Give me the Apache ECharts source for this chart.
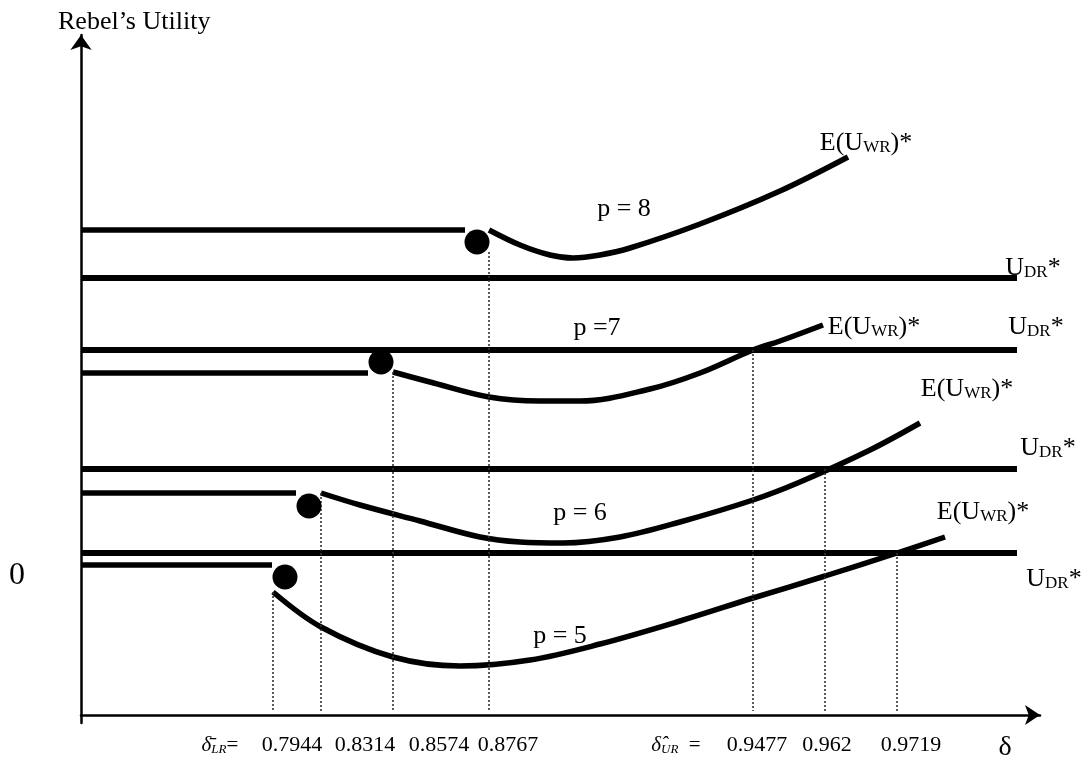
<!DOCTYPE html>
<html>
<head>
<meta charset="utf-8">
<script src="https://cdn.jsdelivr.net/npm/echarts@6/dist/echarts.min.js"></script>
<style>
  html, body { margin: 0; padding: 0; background: #ffffff; }
  #chart { width: 1086px; height: 761px; }
</style>
</head>
<body>
<div id="chart"></div>
<script>
// Schematic diagram: x runs along the discount factor δ (not to scale),
// y is the rebel's utility (arbitrary units).

const prices = [8, 7, 6, 5];

// U_DR* level for each p
const udrLevel = [437, 365, 246, 162];

// flat utility segment left of the jump, and where it stops
const flatLevel = [485, 342, 222, 150];
const flatEnd = [384, 287, 215, 191];

// the point marking the discontinuity
const jumpDots = [[396, 473], [300, 353], [228, 209], [204, 138]];

// E(U_WR)* curves, one per p
const curveP8 = [[408, 485], [439, 470], [469, 460], [492, 457], [519, 460], [549, 467], [619, 491], [699, 524], [767, 558]];
const curveP7 = [[312, 343], [349, 333], [408, 318], [459, 314], [499, 314], [569, 326], [619, 342], [672, 365], [699, 374], [742, 390]];
const curveP6 = [[240, 222], [279, 210], [339, 194], [399, 178], [439, 173], [482, 172], [539, 178], [599, 193], [672, 215], [719, 233], [789, 265], [839, 292]];
const curveP5 = [[192, 123], [240, 88], [312, 58], [379, 49], [449, 55], [519, 71], [599, 94], [672, 117], [744, 139], [816, 162], [864, 178]];
const curves = [curveP8, curveP7, curveP6, curveP5];

// δ thresholds marked on the axis
const lowerDelta = ['0.7944', '0.8314', '0.8574', '0.8767'];
const lowerDeltaX = [192, 240, 312, 408];
const lowerDeltaTop = [123, 222, 343, 463];
const upperDelta = ['0.9477', '0.962', '0.9719'];
const upperDeltaX = [672, 744, 816];
const upperDeltaTop = [365, 246, 162];

// tick text positions along the axis
const lowerLabelX = [211, 284, 358, 427];
const upperLabelX = [676, 746, 830];
const lowerNameX = 139;
const upperNameX = 595;
const axisSymbolX = 924;
const zeroLevel = 139;

// curve annotations: [x, y] anchors in diagram units
const pLabelAt = [[543, 508], [516, 389], [499, 204], [479, 81]];
const ewrLabelAt = [[785, 574], [793, 390], [886, 328], [902, 205]];
const udrLabelAt = [[952, 449], [955, 390], [967, 269], [973, 138]];
const pLabelText = ['p = 8', 'p =7', 'p = 6', 'p = 5'];

const FONT = 'Liberation Serif';
const INK = '#000000';

const series = [];

// U_DR* horizontal lines
udrLevel.forEach((y, i) => {
  series.push({
    type: 'line', name: 'udr' + prices[i], data: [[0, y], [936, y]],
    symbol: 'none', silent: true,
    lineStyle: { color: INK, width: 6, cap: 'butt' }
  });
});

// flat segments
flatLevel.forEach((y, i) => {
  series.push({
    type: 'line', name: 'flat' + prices[i], data: [[0, y], [flatEnd[i], y]],
    symbol: 'none', silent: true,
    lineStyle: { color: INK, width: 5.5, cap: 'butt' }
  });
});

// E(U_WR)* curves
curves.forEach((c, i) => {
  series.push({
    type: 'line', name: 'ewr' + prices[i], data: c, smooth: 0.35,
    symbol: 'none', silent: true,
    lineStyle: { color: INK, width: 5.5, cap: 'butt' }
  });
});

// dotted drop lines to the δ axis
const dropLine = (x, top) => ({
  type: 'line', data: [[x, top], [x, 4]], symbol: 'none', silent: true,
  lineStyle: { color: '#333333', width: 1.6, type: [2, 2] }
});
lowerDeltaX.forEach((x, i) => series.push(dropLine(x, lowerDeltaTop[i])));
upperDeltaX.forEach((x, i) => series.push(dropLine(x, upperDeltaTop[i])));

// jump dots
series.push({
  type: 'scatter', data: jumpDots, symbol: 'circle', symbolSize: 25, silent: true,
  itemStyle: { color: INK, opacity: 1 }, z: 5
});

// text annotations
const rich = {
  m: { fontFamily: FONT, fontSize: 26, color: INK, lineHeight: 30, verticalAlign: 'bottom' },
  s: { fontFamily: FONT, fontSize: 17, color: INK, lineHeight: 20, verticalAlign: 'bottom' }
};
const annotations = [];
pLabelAt.forEach((p, i) => annotations.push({ value: p, text: '{m|' + pLabelText[i] + '}' }));
ewrLabelAt.forEach(p => annotations.push({ value: p, text: '{m|E(U}{s|WR}{m|)*}' }));
udrLabelAt.forEach(p => annotations.push({ value: p, text: '{m|U}{s|DR}{m|*}' }));

series.push({
  type: 'scatter', clip: false, silent: true, symbolSize: 0,
  itemStyle: { color: INK, opacity: 1 },
  data: annotations.map(a => ({ value: a.value, label: { formatter: a.text } })),
  label: {
    show: true, position: 'inside', color: INK, opacity: 1,
    fontFamily: FONT, fontSize: 26, rich: rich
  },
  z: 6
});

// axis text
const tickText = {};
lowerDelta.forEach((t, i) => { tickText[lowerLabelX[i]] = t; });
upperDelta.forEach((t, i) => { tickText[upperLabelX[i]] = t; });
tickText[lowerNameX] = '{d|δ̄}{i|LR}{e|=}';
tickText[upperNameX] = '{d|δ̂}{i|UR}{e|  =}';
tickText[axisSymbolX] = '{g|δ}';
const tickValues = Object.keys(tickText).map(Number);

const chart = echarts.init(document.getElementById('chart'), null, { renderer: 'canvas' });
chart.setOption({
  animation: false,
  backgroundColor: '#ffffff',
  grid: { left: 81, right: 46, top: 35, bottom: 38, containLabel: false, outerBoundsMode: 'none' },
  xAxis: {
    type: 'value', min: 0, max: 959,
    splitLine: { show: false },
    axisTick: { show: false },
    axisLine: {
      show: true, onZero: true,
      symbol: ['none', 'arrow'], symbolSize: [15, 15],
      lineStyle: { color: INK, width: 2.5 }
    },
    axisLabel: {
      customValues: tickValues,
      formatter: v => tickText[v] || '',
      margin: 11, color: INK, fontFamily: FONT, fontSize: 22,
      rich: {
        d: { fontFamily: FONT, fontSize: 21, fontStyle: 'italic', color: INK },
        i: { fontFamily: FONT, fontSize: 13, fontStyle: 'italic', color: INK, padding: [9, 0, 0, 0] },
        e: { fontFamily: FONT, fontSize: 21, color: INK },
        g: { fontFamily: FONT, fontSize: 28, color: INK }
      }
    }
  },
  yAxis: {
    type: 'value', min: -8, max: 680,
    name: 'Rebel’s Utility', nameLocation: 'end', nameGap: 0,
    nameTextStyle: { fontFamily: FONT, fontSize: 26, color: INK, align: 'left', padding: [0, 0, 0, -23] },
    splitLine: { show: false },
    axisTick: { show: false },
    axisLine: {
      show: true,
      symbol: ['none', 'arrow'], symbolSize: [16, 15],
      lineStyle: { color: INK, width: 2.5 }
    },
    axisLabel: {
      customValues: [zeroLevel],
      formatter: () => '0',
      margin: 56, color: INK, fontFamily: FONT, fontSize: 32
    }
  },
  series: series
});
</script>
</body>
</html>
